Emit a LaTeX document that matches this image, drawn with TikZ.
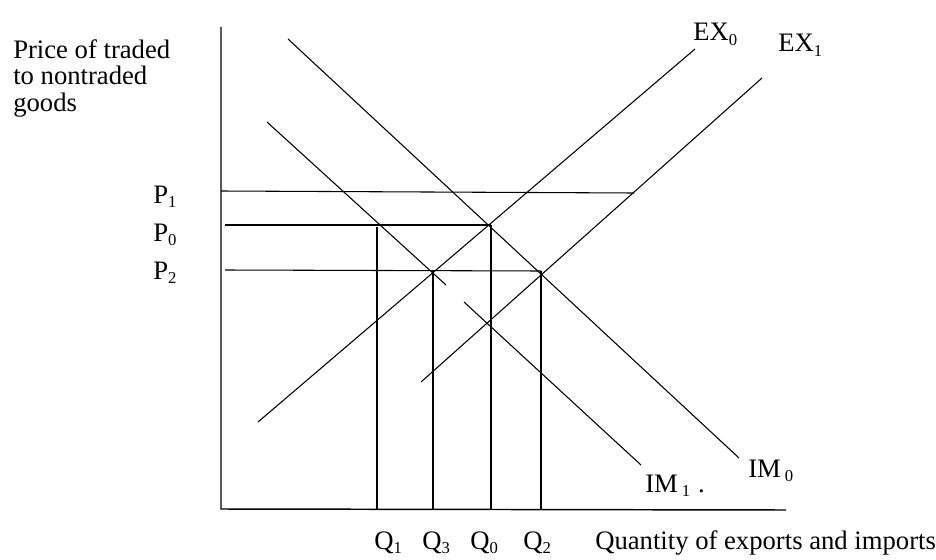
\documentclass[tikz,border=0pt]{standalone}
\usepackage{fontspec}
\setmainfont{Liberation Serif}
\newcommand{\sub}[1]{\raisebox{-3.5pt}{\fontsize{12.5}{12.5}\selectfont #1}}
\tikzset{
  axis/.style={draw=black,line width=1.1pt},
  curve/.style={draw=black,line width=0.8pt},
  guide/.style={draw=black,line width=0.8pt},
  lab/.style={font=\fontsize{20}{20}\selectfont,inner sep=0pt,anchor=base west},
  ttl/.style={font=\fontsize{20}{20}\selectfont,inner sep=0pt,align=left,anchor=north west},
}
\begin{document}
\begin{tikzpicture}[x=0.75pt,y=-0.75pt]
\useasboundingbox (0,0) rectangle (936,560);
% axes
\coordinate (O) at (221,509);
\coordinate (ytop) at (221,27);
\coordinate (xend) at (786,510);
\draw[axis] (ytop) -- (O) -- (xend);
\node[ttl] (ylab) at (13,39) {Price of traded\\to nontraded\\goods};
\node[lab] (xlab) at (595,549) {Quantity of exports and imports};
% curve ends
\coordinate (im0a) at (288,39);   \coordinate (im0b) at (739,458);
\coordinate (im1a) at (267,122);  \coordinate (im1b) at (446,285);
\coordinate (im1c) at (464,302);  \coordinate (im1d) at (641,465);
\coordinate (ex0a) at (258,422);  \coordinate (ex0b) at (695,49);
\coordinate (ex1a) at (421,382);  \coordinate (ex1b) at (762,78);
\draw[curve] (im0a) -- (im0b);
\draw[curve] (im1a) -- (im1b);
\draw[curve] (im1c) -- (im1d);
\draw[curve] (ex0a) -- (ex0b);
\draw[curve] (ex1a) -- (ex1b);
\node[lab] (ex0) at (693,41) {EX\sub{0}};
\node[lab] (ex1) at (778,52) {EX\sub{1}};
\node[lab] (im1) at (645,492) {IM\hspace{3pt}\sub{1}\hspace{6pt}.};
\node[lab] (im0) at (748,477) {IM\hspace{3pt}\sub{0}};
% equilibria and guides
\coordinate (e1) at (634,193);
\coordinate (e0) at (491,225);
\coordinate (e2) at (541,271);
\coordinate (e3) at (433,271);
\coordinate (p1) at (221,191);
\coordinate (p0) at (225,225);
\coordinate (p2) at (225,270);
\coordinate (q1top) at (377,227);
\draw[guide] (p1) -- (e1);
\draw[guide] (p0) -- (e0);
\draw[guide] (p2) -- (e2);
\draw[guide] (q1top) -- (377,509) coordinate (q1);
\draw[guide] (e3) -- (433,509) coordinate (q3);
\draw[guide] (e0) -- (491,509) coordinate (q0);
\draw[guide] (e2) -- (541,509) coordinate (q2);
\foreach \nm/\y/\s in {P1/203/1,P0/241/0,P2/279/2}{
  \node[lab] (\nm) at (153,\y) {P\sub{\s}};
}
\foreach \nm/\x/\s in {Q1/374/1,Q3/422/3,Q0/470/0,Q2/523/2}{
  \node[lab] (\nm) at (\x,549) {Q\sub{\s}};
}
\end{tikzpicture}
\end{document}
